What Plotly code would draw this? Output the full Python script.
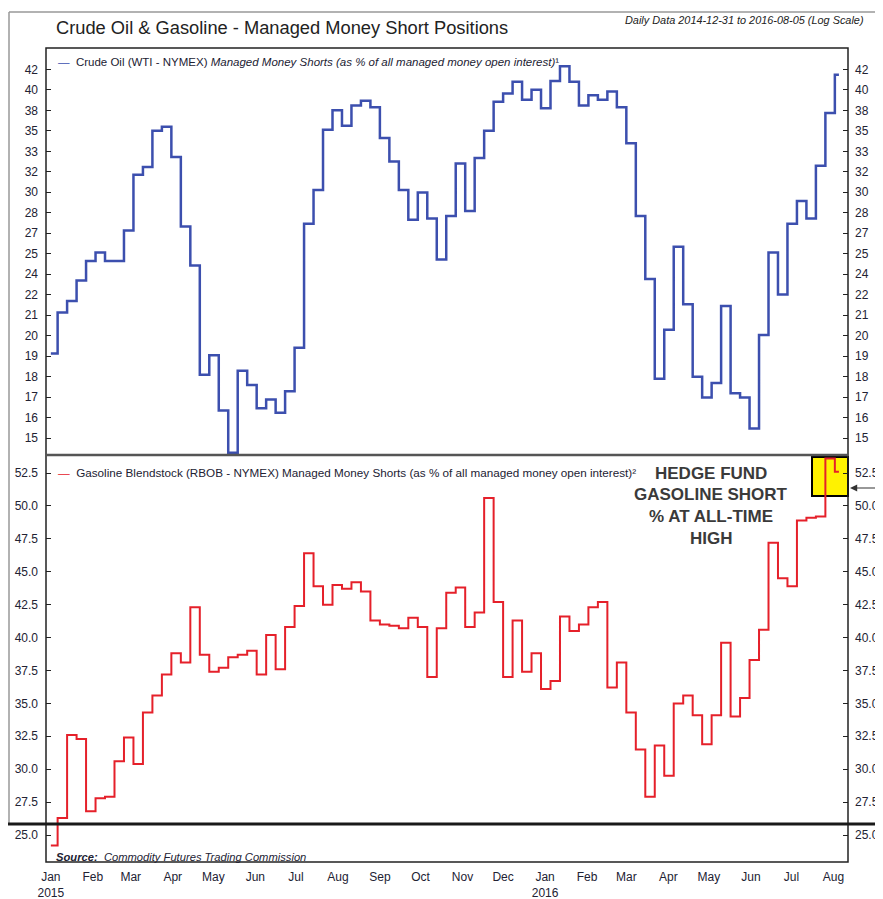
import pandas as pd
import plotly.graph_objects as go

# ---------------------------------------------------------------------------
# DATA (weekly COT readings, % of managed money open interest)
# ---------------------------------------------------------------------------
data_start = "2015-01-01"
data_end = "2016-08-05"
first_report = "2015-01-06"

crude_start = 19.0
crude_shorts = [21.3, 22.0, 23.3, 24.6, 25.2, 24.6, 24.6, 26.8, 31.3, 32.0,
                35.4, 35.8, 32.9, 27.1, 24.3, 17.9, 18.9, 16.2, 14.4, 18.1,
                17.4, 16.3, 16.7, 16.1, 17.1, 19.3, 27.3, 30.0, 35.5, 37.5,
                35.9, 38.0, 38.5, 37.8, 34.7, 32.5, 30.0, 27.6, 29.8, 27.7,
                24.7, 27.9, 32.3, 28.3, 32.8, 35.4, 38.4, 39.3, 40.6, 38.6,
                39.7, 37.7, 40.7, 42.4, 40.6, 38.0, 39.1, 38.6, 39.5, 37.8,
                34.2, 27.9, 23.4, 17.7, 20.3, 25.6, 21.8, 17.8, 16.8, 17.5,
                21.7, 17.0, 16.8, 15.4, 20.0, 25.2, 22.4, 27.3, 29.1, 27.7,
                32.1, 37.2, 41.4]

gas_start = 24.2
gas_shorts = [26.3, 32.6, 32.3, 26.8, 27.8, 27.9, 30.6, 32.4, 30.4, 34.3,
              35.6, 37.2, 38.8, 38.1, 42.3, 38.7, 37.4, 37.7, 38.5, 38.7,
              39.0, 37.2, 40.2, 37.6, 40.8, 42.4, 46.4, 43.9, 42.5, 44.0,
              43.7, 44.2, 43.5, 41.3, 41.0, 40.9, 40.7, 41.5, 40.8, 37.0,
              40.7, 43.4, 43.8, 40.8, 41.9, 50.6, 42.7, 37.0, 41.3, 37.4,
              38.8, 36.1, 36.7, 41.6, 40.5, 41.0, 42.3, 42.7, 36.2, 38.1,
              34.3, 31.5, 27.9, 31.8, 29.5, 35.0, 35.6, 34.1, 31.9, 34.1,
              39.6, 34.0, 35.4, 38.3, 40.6, 47.2, 44.5, 43.9, 48.9, 49.1,
              49.2, 53.6, 52.6]

month_starts = pd.date_range("2015-01-01", "2016-08-01", freq="MS")
month_labels = ["Jan<br>2015", "Feb", "Mar", "Apr", "May", "Jun", "Jul", "Aug",
                "Sep", "Oct", "Nov", "Dec", "Jan<br>2016", "Feb", "Mar", "Apr",
                "May", "Jun", "Jul", "Aug"]

crude_tick_labels = ["15", "16", "17", "18", "19", "20", "21", "22", "24", "25",
                     "27", "28", "30", "32", "33", "35", "38", "40", "42"]

# ---------------------------------------------------------------------------
# BUILD SERIES (step lines, value holds until next report)
# ---------------------------------------------------------------------------
report_dates = pd.date_range(first_report, periods=len(crude_shorts), freq="7D")
x_dates = [pd.Timestamp(data_start)] + list(report_dates) + [pd.Timestamp(data_end)]
y_crude = [crude_start] + crude_shorts + [crude_shorts[-1]]
y_gas = [gas_start] + gas_shorts + [gas_shorts[-1]]

# log-spaced tick positions for the crude panel
ratio = (42.03 / 15.0) ** (1 / 18)
crude_tickvals = [15.0 * ratio ** j for j in range(len(crude_tick_labels))]

# page pixel -> paper helpers (plot area is x 46..848, y 48..862 on the page;
# the html body adds an 8px offset, so the figure itself is 875x891)
def px(x):
    return (x - 46) / 802.0

def py(y):
    return (862 - y) / 814.0

FONT = "Liberation Sans, Arial, sans-serif"
TXT = "#222233"
BLUE = "#3c4fae"
RED = "#e5202a"

fig = go.Figure()
fig.add_trace(go.Scatter(x=x_dates, y=y_crude, mode="lines", line_shape="hv",
                         line=dict(color=BLUE, width=2.5), yaxis="y", showlegend=False))
fig.add_trace(go.Scatter(x=x_dates, y=y_gas, mode="lines", line_shape="hv",
                         line=dict(color=RED, width=2), yaxis="y2", showlegend=False))
# empty traces so the mirrored right-hand axes get drawn
fig.add_trace(go.Scatter(x=[], y=[], yaxis="y3", showlegend=False, hoverinfo="skip"))
fig.add_trace(go.Scatter(x=[], y=[], yaxis="y4", showlegend=False, hoverinfo="skip"))

yax_top = dict(type="log", range=[1.1555, 1.6495], tickvals=crude_tickvals,
               ticktext=crude_tick_labels, ticks="inside", ticklen=5,
               tickcolor="#222", showgrid=False, zeroline=False, automargin=False,
               tickfont=dict(size=12, color=TXT, family=FONT),
               domain=[0.5, 1.0], anchor="x", ticklabelstandoff=7)
yax_bot = dict(range=[22.95, 53.87], tick0=25, dtick=2.5, tickformat=".1f",
               ticks="inside", ticklen=5, tickcolor="#222", showgrid=False,
               zeroline=False, automargin=False,
               tickfont=dict(size=12, color=TXT, family=FONT),
               domain=[0.0, 0.5], anchor="x", ticklabelstandoff=7)

fig.update_layout(
    width=875, height=891,
    margin=dict(l=38, r=35, t=40, b=37, autoexpand=False),
    paper_bgcolor="white", plot_bgcolor="white",
    font=dict(family=FONT, color=TXT, size=12),
    xaxis=dict(type="date", range=["2014-12-28 10:00", "2016-08-11 17:00"],
               tickvals=month_starts, ticktext=month_labels, ticks="",
               showgrid=False, zeroline=False, anchor="y2", automargin=False,
               ticklabelstandoff=6,
               tickfont=dict(size=12, color=TXT, family=FONT)),
    yaxis=yax_top,
    yaxis2=yax_bot,
    yaxis3=dict(yax_top, overlaying="y", side="right", ticklabelstandoff=6),
    yaxis4=dict(yax_bot, overlaying="y2", side="right", ticklabelstandoff=6),
)

shapes = [
    # outer grey page frame
    dict(type="line", xref="paper", yref="paper", x0=px(9), x1=px(883), y0=py(12), y1=py(12),
         line=dict(color="#999999", width=1.5)),
    dict(type="line", xref="paper", yref="paper", x0=px(9), x1=px(9), y0=py(12), y1=py(824),
         line=dict(color="#999999", width=1.5)),
    # yellow highlight box
    dict(type="rect", xref="paper", yref="paper", x0=px(812), x1=px(848), y0=py(496), y1=py(457),
         fillcolor="#fff200", line=dict(color="black", width=2), layer="below"),
    # chart frame and panel divider
    dict(type="rect", xref="paper", yref="paper", x0=0, x1=1, y0=0, y1=1,
         line=dict(color="#222222", width=1.5)),
    dict(type="line", xref="paper", yref="paper", x0=0, x1=1, y0=0.5, y1=0.5,
         line=dict(color="#555555", width=2.5)),
    # thick black rule across the page
    dict(type="line", xref="paper", yref="paper", x0=px(8), x1=px(883), y0=py(824), y1=py(824),
         line=dict(color="#1a1a1a", width=3)),
]

crude_legend = ("<span style='color:" + BLUE + "'>\u2014</span>  Crude Oil (WTI - NYMEX) "
                "<i>Managed Money Shorts (as % of all managed money open interest)</i>\u00b9")
gas_legend = ("<span style='color:" + RED + "'>\u2014</span>  Gasoline Blendstock (RBOB - NYMEX) "
              "Managed Money Shorts (as % of all managed money open interest)\u00b2")

annotations = [
    dict(text="Crude Oil & Gasoline - Managed Money Short Positions", x=px(54), y=py(28),
         xanchor="left", yanchor="middle", font=dict(size=18.3, color="#222222")),
    dict(text="<i>Daily Data 2014-12-31 to 2016-08-05 (Log Scale)</i>", x=px(866), y=py(20),
         xanchor="right", yanchor="middle", font=dict(size=10.9, color="#222222")),
    dict(text=crude_legend, x=px(56), y=py(62), xanchor="left", yanchor="middle",
         font=dict(size=11.5)),
    dict(text=gas_legend, x=px(56), y=py(472), xanchor="left", yanchor="middle",
         font=dict(size=11.7)),
    dict(text="<b><i>Source:</i></b>  <i>Commodity Futures Trading Commission</i>",
         x=px(54), y=py(857), xanchor="left", yanchor="middle", font=dict(size=11.2)),
    # arrow pointing at the yellow box
    dict(text="", x=px(850), y=py(488), ax=33, ay=0, showarrow=True, arrowhead=2,
         arrowsize=1.2, arrowwidth=1.2, arrowcolor="#333333"),
]
for i, line in enumerate(["HEDGE FUND", "GASOLINE SHORT", "% AT ALL-TIME", "HIGH"]):
    annotations.append(dict(text="<b>" + line + "</b>", x=px(711), y=py(473 + 21.7 * i),
                            xanchor="center", yanchor="middle",
                            font=dict(size=17, color="#3a3a3a")))
for a in annotations:
    a.setdefault("xref", "paper")
    a.setdefault("yref", "paper")
    a.setdefault("showarrow", False)

fig.update_layout(shapes=shapes, annotations=annotations)

fig.write_html("out.html")
